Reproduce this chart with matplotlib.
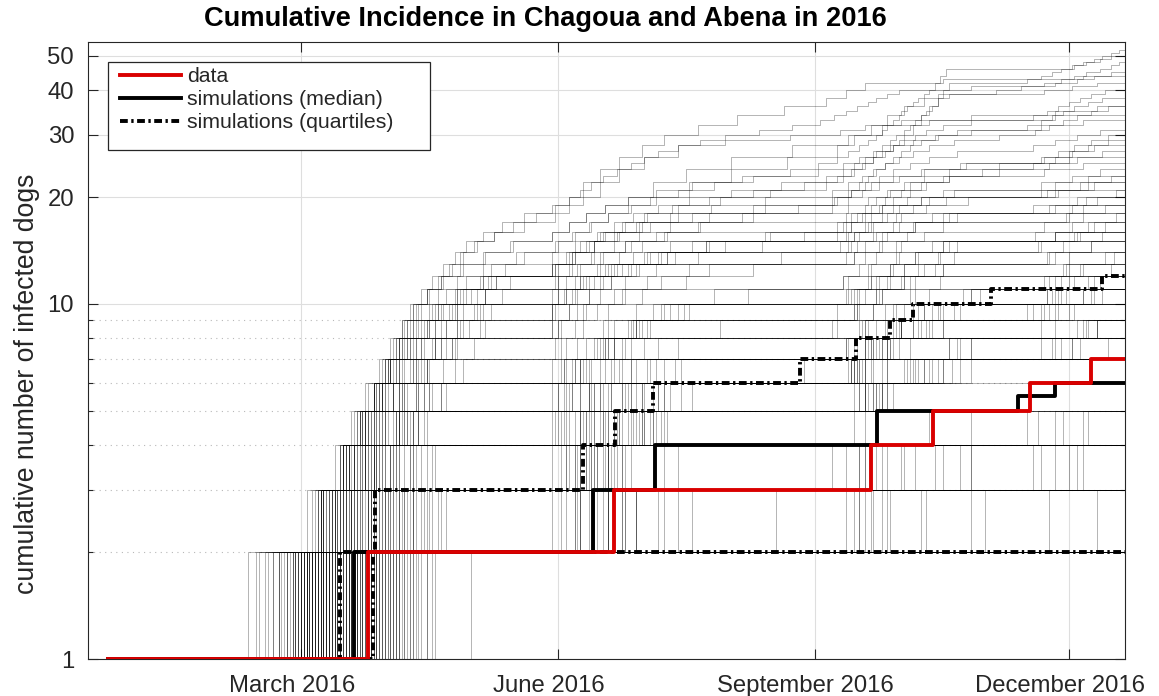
import numpy as np
import matplotlib
matplotlib.use("Agg")
import matplotlib.pyplot as plt
import matplotlib.dates as mdates
import matplotlib.transforms as mtransforms
from matplotlib.ticker import FixedLocator, NullFormatter, FixedFormatter
from matplotlib.patches import Rectangle

plt.rcParams['font.family'] = ['Liberation Sans', 'DejaVu Sans']

# ---------------- data (days counted from 2016-01-01) ----------------
START_DAY = -9.1
END_DAY = 355.1
XLIM_DAYS = (-16.3, 355.1)

data_days = [-9.1, 84, 172, 264, 286.5, 321, 343]
data_levels = [1, 2, 3, 4, 5, 6, 7]

median_days = [-9.1, 79, 164.5, 186.7, 266.3, 316.7, 330]
median_levels = [1, 2, 3, 4, 5, 5.5, 6]

lower_q_days = [-9.1, 74]
lower_q_levels = [1, 2]

upper_q_days = [-9.1, 85.8, 86.5, 161, 172.4, 186, 238.7, 258.8, 271, 279.2, 307.1, 346.8]
upper_q_levels = [1, 2, 3, 4, 5, 6, 7, 8, 9, 10, 11, 12]

# simulations that reach level 2 only (day of the single jump)
sims_end2 = [41, 44, 47, 50, 52, 55, 57, 59, 60, 62, 63, 64, 65, 66, 67, 68, 69, 70,
             71, 72, 73, 75, 76, 77, 78, 79, 80, 81, 82, 83, 84, 86, 87, 89, 90, 92,
             93, 95, 97, 100, 102, 105, 108, 121, 61, 74, 85, 88, 94, 99]

# simulations with few cases (days of successive +1 jumps)
sims_low = [
    [45, 66], [52, 160], [58, 95, 268], [62, 100], [64, 165, 190, 300],
    [66, 158, 262], [68, 80, 178], [70, 180], [72, 170, 255, 285],
    [74, 150, 322], [76, 92, 266, 330], [78, 200], [80, 165, 175],
    [82, 265, 280, 340], [84, 155], [86, 260, 325], [88, 170, 250, 320],
    [91, 175], [94, 170, 195, 262], [99, 300], [105, 230, 275],
    [55, 62], [60, 175], [67, 170, 290], [71, 160], [75, 85, 260], [79, 195],
    [83, 255, 300], [87, 168], [90, 262, 330], [96, 180, 340], [100, 158], [103, 270],
    [58, 172], [61, 190], [65, 258], [69, 268], [73, 284], [76, 305], [79, 328],
    [81, 345], [85, 163], [89, 176], [92, 260, 300], [95, 271], [98, 282, 335],
    [101, 166, 338], [107, 180, 262], [64, 153, 270, 333], [70, 176, 287],
    [77, 264, 296, 342], [84, 188, 260], [93, 159, 276, 324],
]

# simulations ending between 5 and 17 cases
sims_mid = [
    [60, 70, 82, 95, 160, 260],
    [63, 76, 90, 150, 168, 185, 270],
    [65, 85, 160, 172, 200, 262, 300],
    [67, 78, 88, 100, 165, 180, 255, 275, 330],
    [69, 90, 155, 162, 175, 240, 265],
    [71, 84, 97, 160, 190, 258, 268, 290, 322, 340],
    [74, 82, 165, 178, 260],
    [76, 86, 94, 102, 150, 160, 172, 250, 265, 280, 330],
    [78, 94, 170, 186, 262, 290],
    [80, 88, 160, 168, 177, 190, 258, 272, 320],
    [82, 91, 99, 153, 167, 262],
    [85, 96, 163, 180, 265, 286, 330, 345],
    [87, 100, 170, 182, 196, 270],
    [89, 160, 176, 258, 268, 278, 300, 325],
    [92, 104, 166, 185, 262, 283],
    [62, 72, 80, 88, 96, 105, 155, 170, 265, 330, 342],
    [64, 74, 85, 93, 101, 158, 175, 262],
    [70, 79, 89, 100, 163, 172, 255, 263, 272, 285, 335],
    [75, 84, 92, 160, 170, 256, 264, 275, 290, 327],
    [81, 93, 162, 175, 188, 265, 278, 338],
    [95, 110, 172, 182, 270, 290, 325, 345],
    [73, 83, 94, 154, 163, 171, 262, 270, 281, 300, 332],
    [78, 89, 165, 174, 260, 268],
    [66, 77, 86, 96, 156, 164, 176, 262, 276],
    [83, 97, 158, 169, 183, 257, 267, 279, 296, 334],
    [61, 73, 86, 152, 165, 258, 270],
    [64, 75, 87, 99, 160, 175, 262, 285, 335],
    [68, 81, 95, 165, 182, 259, 271, 330],
    [72, 85, 156, 170, 262, 300],
    [77, 90, 103, 162, 178, 196, 264, 281, 328, 343],
    [84, 98, 168, 186, 268, 296],
    [88, 101, 164, 181, 262, 276, 292, 340],
    [59, 69, 79, 90, 101, 154, 166, 180, 259, 268, 280, 333],
    [63, 74, 84, 95, 157, 169, 183, 261, 273, 327, 344],
    [93, 107, 170, 190, 266, 283, 336],
    [60, 71, 160, 174, 258, 270, 336],
    [62, 78, 93, 164, 188, 264, 292, 341],
    [66, 80, 99, 151, 163, 178, 256, 266, 283, 329],
    [68, 84, 170, 179, 268, 281, 295, 342],
    [71, 86, 101, 156, 171, 187, 259, 269, 279, 303, 337, 350],
    [73, 88, 162, 172, 263, 277],
    [75, 89, 105, 167, 180, 194, 262, 274, 289, 331, 346],
    [78, 92, 159, 173, 190, 261, 272, 286, 325],
    [80, 95, 108, 160, 176, 258, 266, 275, 286, 300, 328, 340, 351],
    [82, 97, 166, 183, 270, 288, 332],
    [85, 99, 155, 168, 182, 257, 265, 273, 283, 297, 326, 339],
    [87, 103, 171, 187, 265, 280, 339],
    [90, 106, 164, 177, 192, 260, 270, 282, 331, 347],
    [63, 73, 83, 94, 106, 158, 168, 179, 192, 255, 263, 271, 280, 292, 323, 336],
    [67, 76, 85, 95, 107, 154, 165, 177, 189, 256, 264, 272, 281, 290, 330, 342, 352],
    [69, 79, 90, 102, 152, 161, 172, 184, 258, 267, 276, 287, 327, 343],
    [72, 82, 92, 104, 157, 167, 178, 260, 269, 278, 289, 334, 348],
    [74, 87, 100, 161, 171, 184, 263, 275, 288, 332],
    [77, 91, 153, 163, 175, 257, 268, 279, 294, 340],
    [79, 93, 107, 165, 178, 259, 271, 284, 326, 344],
    [86, 100, 158, 170, 186, 262, 274, 290, 337],
    [91, 105, 169, 183, 266, 279, 296, 345],
    [94, 109, 173, 189, 267, 285, 329],
    [97, 112, 175, 191, 272, 293, 349],
    [61, 72, 83, 97, 110, 155, 167, 181, 197, 257, 266, 276, 289, 325, 339],
    [65, 75, 86, 98, 112, 157, 169, 182, 199, 260, 270, 281, 294, 333, 347],
]

# simulations ending between 13 and 25 cases
sims_high = [
    [60, 68, 75, 82, 88, 94, 100, 106, 115, 150, 158, 166, 262, 275],
    [62, 70, 77, 84, 90, 96, 103, 110, 118, 126, 155, 170, 258, 268, 330],
    [65, 72, 79, 85, 91, 97, 104, 112, 122, 152, 160, 172, 185, 256, 266, 280, 335],
    [57, 67, 75, 81, 86, 92, 98, 105, 113, 121, 130, 156, 165, 178, 260, 272, 290, 340],
    [67, 74, 81, 87, 93, 99, 107, 116, 125, 155, 162, 171, 183, 200, 258, 265, 275, 322, 338],
    [55, 66, 75, 81, 86, 90, 95, 101, 108, 116, 124, 133, 150, 158, 167, 180, 255, 268, 282, 330],
    [69, 76, 83, 89, 95, 101, 108, 116, 124, 132, 152, 160, 168, 176, 190, 257, 264, 272, 285, 325, 342],
    [72, 80, 87, 94, 102, 160, 170, 180, 260, 268, 278, 335],
    [74, 84, 92, 100, 155, 163, 172, 185, 258, 266, 276, 290, 330],
    [61, 71, 79, 86, 93, 101, 110, 152, 161, 175, 254, 263, 273, 286],
    [68, 78, 86, 95, 104, 150, 159, 168, 180, 262, 271, 283, 328, 343],
    [76, 85, 93, 102, 154, 162, 170, 178, 190, 259, 267, 276, 288, 324, 337, 348],
    [59, 67, 75, 81, 87, 92, 99, 106, 114, 123, 135, 151, 158, 165, 173, 182, 195,
     256, 263, 270, 278, 290, 326, 340],
    [58, 68, 76, 83, 89, 95, 103, 112, 123, 152, 160, 169, 179, 192, 256, 264, 273, 284, 299, 331, 344],
    [64, 72, 79, 86, 93, 100, 108, 117, 128, 154, 163, 173, 184, 259, 268, 279, 292, 336],
    [66, 75, 83, 90, 97, 105, 114, 126, 151, 159, 168, 178, 191, 257, 265, 274, 286, 328, 341, 352],
    [70, 78, 86, 94, 102, 111, 122, 153, 162, 172, 184, 199, 258, 267, 277, 290, 334, 348],
    [62, 71, 79, 87, 95, 103, 112, 124, 150, 158, 167, 177, 189, 205, 255, 262, 270, 279, 291, 327, 339, 350],
]

# largest outbreaks: (day, cumulative level) step points
sims_top = [
    [(52, 2), (66, 3), (76, 4), (84, 5), (90, 6), (93, 7), (96, 8), (99, 9), (102, 10), (106, 11),
     (110, 12), (114, 13), (118, 14), (123, 15), (129, 16), (136, 17), (144, 18), (151, 19),
     (156, 20), (160, 21), (164, 22), (168, 23), (173, 24), (178, 25), (183, 26), (188, 27),
     (195, 28), (203, 29), (212, 30), (224, 31), (236, 32), (246, 33), (251, 34), (255, 35),
     (259, 36), (263, 37), (266, 38), (270, 39), (274, 40), (300, 41), (330, 42), (338, 43),
     (344, 44), (350, 45)],
    [(58, 2), (67, 3), (74, 4), (80, 5), (86, 6), (90, 7), (95, 8), (100, 9), (106, 10), (112, 11),
     (119, 12), (128, 13), (140, 14), (152, 15), (158, 16), (164, 17), (170, 18), (177, 19),
     (185, 20), (195, 21), (208, 22), (222, 23), (235, 24), (245, 25), (252, 26), (256, 27),
     (260, 28), (263, 29), (266, 30), (268, 31), (270, 32), (272, 33), (274, 34), (275, 35),
     (277, 36), (279, 37), (281, 38), (283, 39), (285, 40), (287, 42), (289, 44), (291, 46),
     (336, 47), (340, 48), (344, 49), (347, 50), (350, 51), (353, 52)],
    [(62, 2), (69, 3), (76, 4), (82, 5), (87, 6), (92, 7), (98, 8), (104, 9), (110, 10), (118, 11),
     (127, 12), (150, 13), (155, 14), (160, 15), (166, 16), (172, 17), (179, 18), (188, 19),
     (199, 20), (214, 21), (232, 22), (248, 23), (254, 24), (258, 25), (262, 26), (265, 27),
     (268, 28), (271, 29), (273, 30), (276, 31), (278, 32), (280, 33), (282, 34), (284, 35),
     (286, 36), (288, 38), (290, 40), (292, 42), (320, 43), (325, 44), (329, 45), (332, 46),
     (337, 47), (341, 48), (346, 49), (350, 50)],
    [(64, 2), (72, 3), (78, 4), (84, 5), (89, 6), (94, 7), (99, 8), (105, 9), (111, 10), (119, 11),
     (130, 12), (151, 13), (157, 14), (163, 15), (169, 16), (176, 17), (184, 18), (195, 19),
     (210, 20), (228, 21), (248, 22), (254, 23), (258, 24), (262, 25), (265, 26), (268, 27),
     (271, 28), (274, 29), (276, 30), (279, 32), (282, 34), (285, 36), (288, 39), (309, 40),
     (318, 41), (326, 42), (332, 43), (337, 44), (341, 45), (346, 46), (350, 47), (353, 48)],
    [(60, 2), (68, 3), (75, 4), (81, 5), (86, 6), (91, 7), (97, 8), (103, 9), (109, 10), (116, 11),
     (125, 12), (150, 13), (156, 14), (162, 15), (168, 16), (175, 17), (183, 18), (193, 19),
     (206, 20), (222, 21), (240, 22), (252, 23), (257, 24), (261, 25), (265, 26), (269, 27),
     (272, 28), (276, 29), (280, 30), (284, 31), (290, 32), (300, 33), (322, 34), (327, 35),
     (331, 36), (335, 37), (339, 38), (343, 39), (348, 40)],
    [(66, 2), (74, 3), (81, 4), (88, 5), (95, 6), (102, 7), (110, 8), (120, 9), (150, 10),
     (155, 11), (161, 12), (167, 13), (174, 14), (182, 15), (191, 16), (203, 17), (218, 18),
     (238, 19), (252, 20), (256, 21), (260, 22), (263, 23), (266, 24), (269, 25), (272, 26),
     (275, 27), (278, 28), (282, 29), (287, 30), (295, 31), (320, 32), (325, 33), (329, 34),
     (333, 35), (337, 36), (342, 37), (347, 38)],
    [(56, 2), (68, 3), (77, 4), (83, 5), (88, 6), (92, 7), (96, 8), (102, 9), (109, 10), (117, 11),
     (128, 12), (152, 13), (158, 14), (165, 15), (172, 16), (181, 17), (192, 18), (207, 19),
     (226, 20), (250, 21), (256, 22), (261, 23), (265, 24), (269, 25), (274, 26), (279, 27),
     (285, 28), (294, 29), (310, 30), (323, 31), (328, 32), (333, 33), (338, 34), (343, 35),
     (349, 36)],
    [(70, 2), (77, 3), (84, 4), (91, 5), (98, 6), (106, 7), (116, 8), (150, 9), (156, 10),
     (163, 11), (171, 12), (180, 13), (191, 14), (206, 15), (226, 16), (252, 17), (257, 18),
     (262, 19), (266, 20), (271, 21), (276, 22), (283, 23), (292, 24), (310, 25), (325, 26),
     (331, 27), (337, 28), (343, 29), (349, 30)],
    [(63, 2), (71, 3), (77, 4), (83, 5), (89, 6), (95, 7), (101, 8), (108, 9), (116, 10),
     (126, 11), (152, 12), (159, 13), (167, 14), (176, 15), (187, 16), (202, 17), (222, 18),
     (250, 19), (256, 20), (261, 21), (267, 22), (274, 23), (283, 24), (296, 25), (326, 26),
     (335, 27), (344, 28)],
    [(48, 2), (65, 3), (75, 4), (83, 5), (88, 6), (91, 7), (94, 8), (96, 9), (99, 10), (103, 11),
     (107, 12), (111, 13), (115, 14), (119, 15), (125, 16), (132, 17), (140, 18), (150, 19),
     (156, 20), (161, 22), (167, 24), (174, 26), (182, 28), (190, 30), (202, 32), (216, 34),
     (233, 36), (248, 38), (255, 40), (262, 42), (290, 43), (340, 44)],
    [(54, 2), (64, 3), (72, 4), (78, 5), (83, 6), (88, 7), (92, 8), (96, 9), (100, 10), (105, 11),
     (111, 12), (118, 13), (126, 14), (136, 15), (150, 16), (156, 17), (162, 18), (169, 19),
     (177, 20), (186, 22), (198, 24), (214, 26), (236, 28), (256, 30), (268, 32), (285, 33),
     (330, 34)],
    [(59, 2), (67, 3), (74, 4), (79, 5), (84, 6), (89, 7), (93, 8), (98, 9), (103, 10), (109, 11),
     (116, 12), (125, 13), (137, 14), (151, 15), (157, 16), (163, 17), (170, 18), (178, 19),
     (187, 20), (199, 22), (214, 24), (234, 26), (252, 28), (258, 30), (264, 32), (270, 34),
     (276, 36), (283, 38), (292, 39), (326, 40), (336, 41), (345, 42)],
    [(61, 2), (70, 3), (77, 4), (83, 5), (89, 6), (95, 7), (101, 8), (108, 9), (116, 10),
     (126, 11), (151, 12), (157, 13), (164, 14), (172, 15), (181, 16), (192, 17), (206, 18),
     (226, 19), (251, 20), (257, 21), (262, 22), (267, 23), (272, 24), (278, 25), (285, 26),
     (295, 27), (322, 28), (330, 29), (338, 30), (346, 31)],
    [(67, 2), (75, 3), (82, 4), (89, 5), (96, 6), (104, 7), (114, 8), (150, 9), (156, 10),
     (163, 11), (171, 12), (181, 13), (194, 14), (212, 15), (240, 16), (254, 17), (259, 18),
     (264, 19), (269, 20), (275, 21), (282, 22), (292, 23), (310, 24), (328, 25), (338, 26),
     (347, 27)],
    [(71, 2), (79, 3), (87, 4), (95, 5), (104, 6), (115, 7), (151, 8), (158, 9), (166, 10),
     (176, 11), (189, 12), (206, 13), (232, 14), (253, 15), (258, 16), (263, 17), (268, 18),
     (274, 19), (282, 20), (294, 21), (325, 22), (336, 23), (346, 24)],
    [(65, 2), (73, 3), (80, 4), (86, 5), (93, 6), (100, 7), (108, 8), (118, 9), (150, 10),
     (157, 11), (165, 12), (175, 13), (188, 14), (205, 15), (228, 16), (255, 17), (261, 18),
     (268, 19), (277, 20), (290, 21), (330, 22), (342, 23)],
    [(57, 2), (67, 3), (74, 4), (80, 5), (86, 6), (91, 7), (95, 8), (100, 9), (107, 10),
     (115, 11), (125, 12), (150, 13), (157, 14), (165, 15), (174, 16), (185, 17), (200, 18),
     (222, 19), (250, 20), (257, 21), (264, 22), (272, 23), (282, 24), (298, 25), (335, 26)],
    [(53, 2), (68, 3), (76, 4), (82, 5), (86, 6), (90, 7), (94, 8), (97, 9), (100, 10), (105, 11),
     (110, 12), (117, 13), (125, 14), (135, 15), (150, 16), (156, 17), (162, 18), (169, 19),
     (177, 20), (187, 21), (200, 22), (218, 23), (245, 24), (254, 25), (260, 26), (266, 27),
     (272, 28), (279, 29), (288, 30), (300, 31), (325, 32), (340, 33)],
    [(69, 2), (76, 3), (83, 4), (90, 5), (97, 6), (105, 7), (115, 8), (152, 9), (159, 10),
     (167, 11), (176, 12), (187, 13), (202, 14), (225, 15), (252, 16), (257, 17), (262, 18),
     (267, 19), (272, 20), (278, 21), (284, 22), (292, 23), (304, 24), (322, 25), (330, 26),
     (336, 27), (342, 28), (349, 29)],
    [(73, 2), (81, 3), (89, 4), (97, 5), (106, 6), (118, 7), (153, 8), (161, 9), (170, 10),
     (182, 11), (198, 12), (222, 13), (255, 14), (262, 15), (270, 16), (280, 17), (295, 18),
     (330, 19), (345, 20)],
    [(77, 2), (86, 3), (95, 4), (105, 5), (152, 6), (160, 7), (169, 8), (180, 9), (195, 10),
     (220, 11), (254, 12), (260, 13), (266, 14), (273, 15), (283, 16), (326, 17), (340, 18)],
    [(80, 2), (90, 3), (100, 4), (155, 5), (164, 6), (174, 7), (188, 8), (210, 9), (252, 10),
     (258, 11), (264, 12), (271, 13), (280, 14), (295, 15), (330, 16), (344, 17)],
    [(68, 2), (78, 3), (88, 4), (98, 5), (110, 6), (153, 7), (162, 8), (172, 9), (186, 10),
     (208, 11), (256, 12), (264, 13), (274, 14), (290, 15), (338, 16)],
    [(85, 2), (95, 3), (150, 4), (158, 5), (167, 6), (178, 7), (195, 8), (252, 9), (259, 10),
     (266, 11), (275, 12), (290, 13), (335, 14)],
    [(50, 2), (67, 3), (77, 4), (85, 5), (89, 6), (92, 7), (95, 8), (98, 9), (101, 10), (105, 11),
     (109, 12), (113, 13), (117, 14), (122, 15), (129, 16), (140, 17), (151, 18), (156, 19),
     (161, 20), (167, 22), (174, 24), (183, 26), (195, 28), (212, 29), (235, 30), (253, 31),
     (262, 32), (275, 33), (300, 34), (330, 35), (345, 36)],
]

y_major = [1, 10, 20, 30, 40, 50]
y_minor = [2, 3, 4, 5, 6, 7, 8, 9]
Y_TOP = 54.7
x_tick_dates = ['2016-03-01', '2016-06-01', '2016-09-01', '2016-12-01']
x_tick_labels = ['March 2016', 'June 2016', 'September 2016', 'December 2016']

title_text = "Cumulative Incidence in Chagoua and Abena in 2016"
ylabel_text = "cumulative number of infected dogs"
legend_labels = ["data", "simulations (median)", "simulations (quartiles)"]

# ---------------- helpers ----------------
BASE = mdates.date2num(np.datetime64('2016-01-01'))


def to_num(days):
    return BASE + np.asarray(days, dtype=float)


def jumps_to_xy(jumps):
    x = [START_DAY] + list(jumps) + [END_DAY]
    y = list(range(1, len(jumps) + 2)) + [len(jumps) + 1]
    return x, y


def pairs_to_xy(pairs):
    x = [START_DAY] + [p[0] for p in pairs] + [END_DAY]
    y = [1] + [p[1] for p in pairs] + [pairs[-1][1]]
    return x, y


def series_xy(days, levels):
    return list(days) + [END_DAY], list(levels) + [levels[-1]]


# ---------------- figure ----------------
W, H = 1159, 696
fig = plt.figure(figsize=(W / 100, H / 100), dpi=100)
ax = fig.add_axes([88 / W, 1 - 659 / H, (1125 - 88) / W, (659 - 42) / H])

sim_kw = dict(where='post', color='black', alpha=0.34, lw=0.6, zorder=2)
for d in sims_end2:
    x, y = jumps_to_xy([d])
    ax.step(to_num(x), y, **sim_kw)
for group in (sims_low, sims_mid, sims_high):
    for j in group:
        x, y = jumps_to_xy(j)
        ax.step(to_num(x), y, **sim_kw)
for p in sims_top:
    x, y = pairs_to_xy(p)
    ax.step(to_num(x), y, **sim_kw)

dashdot = (0, (2.0, 0.9, 0.6, 0.9))
x, y = series_xy(lower_q_days, lower_q_levels)
hq, = ax.step(to_num(x), y, where='post', color='black', lw=2.8, ls=dashdot, zorder=4)
x, y = series_xy(upper_q_days, upper_q_levels)
ax.step(to_num(x), y, where='post', color='black', lw=2.8, ls=dashdot, zorder=4)
x, y = series_xy(median_days, median_levels)
hm, = ax.step(to_num(x), y, where='post', color='black', lw=2.8, zorder=5)
x, y = series_xy(data_days, data_levels)
hd, = ax.step(to_num(x), y, where='post', color='#D90000', lw=2.8, zorder=6)

# axes styling
ax.set_yscale('log')
ax.set_ylim(1, Y_TOP)
ax.set_xlim(to_num(XLIM_DAYS[0]), to_num(XLIM_DAYS[1]))
ax.yaxis.set_major_locator(FixedLocator(y_major))
ax.yaxis.set_major_formatter(FixedFormatter([str(v) for v in y_major]))
ax.yaxis.set_minor_locator(FixedLocator(y_minor))
ax.yaxis.set_minor_formatter(NullFormatter())
ax.set_xticks([mdates.date2num(np.datetime64(d)) for d in x_tick_dates])
ax.set_xticklabels(x_tick_labels)

axc = '#262626'
for s in ax.spines.values():
    s.set_color(axc)
    s.set_linewidth(0.8)
ax.tick_params(which='both', direction='in', top=True, right=True, color=axc,
               labelcolor=axc, width=0.8)
ax.tick_params(which='major', length=7.5, labelsize=17.2)
ax.tick_params(axis='y', which='major', pad=10)
ax.tick_params(axis='x', which='major', pad=11.5)
ax.tick_params(which='minor', length=3.5)

shift = mtransforms.ScaledTranslation(-9 / 100, 0, fig.dpi_scale_trans)
for lbl in ax.get_xticklabels():
    lbl.set_transform(lbl.get_transform() + shift)

ax.set_axisbelow(True)
ax.grid(True, which='major', axis='both', color='#dedede', lw=0.8, ls='-')
ax.grid(True, which='minor', axis='y', color='#b8b8b8', lw=0.8, ls=(0, (1, 4)))

fig.text(545 / W, 1 - 19 / H, title_text, ha='center', va='center',
         fontsize=19.6, fontweight='bold', color='black')
fig.text(27 / W, 1 - 384 / H, ylabel_text, ha='center', va='center',
         rotation=90, fontsize=19.2, color=axc)

# legend
rect = Rectangle((108 / W, 1 - 150 / H), (430 - 108) / W, (150 - 62) / H,
                 transform=fig.transFigure, facecolor='white', edgecolor=axc,
                 lw=0.9, zorder=9)
fig.patches.append(rect)
leg = fig.legend([hd, hm, hq], legend_labels, loc='upper left',
                 bbox_to_anchor=(120 / W, 1 - 67 / H), frameon=False,
                 borderpad=0, borderaxespad=0, fontsize=15.3,
                 handlelength=2.85, handletextpad=0.3, labelspacing=0.2)
leg.set_zorder(10)
for t in leg.get_texts():
    t.set_color(axc)

fig.savefig('out.png', dpi=100)
